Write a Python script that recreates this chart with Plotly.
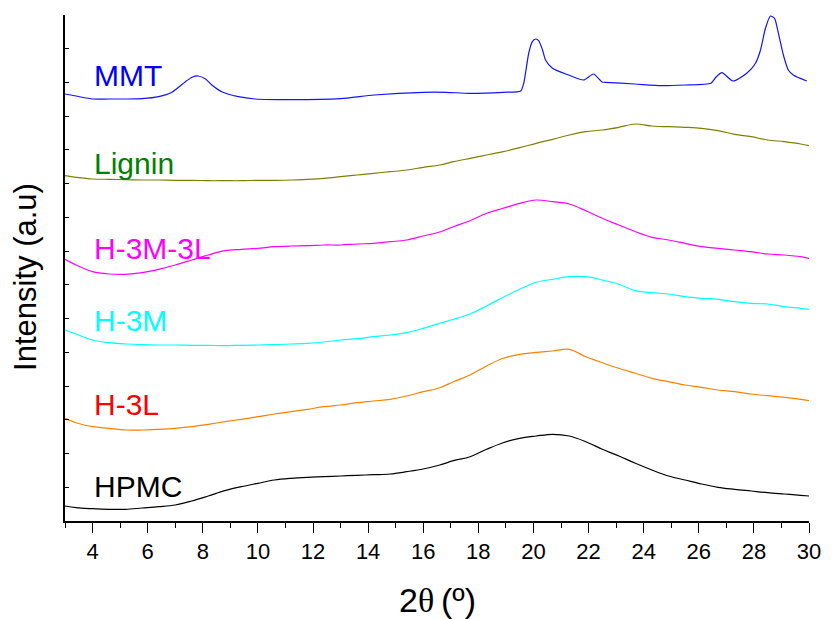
import plotly.graph_objects as go

# 2-theta grid (degrees) shared by the broad, amorphous patterns
two_theta = [3.0, 3.4, 4.0, 4.6, 5.2, 5.8, 6.4, 7.0, 7.6, 8.2, 8.8, 9.4, 10.0, 10.6,
             11.2, 11.8, 12.4, 13.0, 13.6, 14.2, 14.8, 15.4, 16.0, 16.6, 17.1, 17.7,
             18.3, 18.9, 19.5, 20.1, 20.7, 21.3, 21.9, 22.5, 23.1, 23.7, 24.3, 24.9,
             25.5, 26.1, 26.7, 27.3, 27.9, 28.5, 29.1, 29.7, 30.0]

lignin = [345.3, 343.7, 342.0, 341.7, 341.3, 341.0, 341.0, 340.7, 340.7, 340.3, 340.3,
          340.3, 340.7, 340.7, 341.0, 341.7, 342.7, 344.3, 346.0, 347.7, 349.3, 351.0,
          353.7, 356.0, 359.3, 362.7, 366.0, 369.3, 373.3, 377.7, 381.7, 386.0, 389.3,
          391.0, 393.7, 397.0, 395.0, 394.3, 393.7, 392.7, 390.3, 386.7, 384.3, 381.0,
          379.3, 377.0, 375.3]

h_3m_3l = [261.7, 256.0, 249.3, 247.0, 246.7, 248.3, 251.7, 256.0, 261.0, 266.0, 270.3,
           271.7, 272.7, 274.3, 275.0, 275.3, 276.0, 276.0, 277.0, 277.7, 279.3, 281.0,
           285.0, 289.0, 294.3, 300.3, 307.7, 312.7, 317.7, 321.0, 319.3, 317.0, 310.3,
           302.7, 296.0, 289.3, 283.7, 281.0, 277.7, 274.3, 272.7, 271.0, 269.3, 267.0,
           266.0, 264.3, 262.7]

h_3m = [191.0, 187.0, 181.0, 178.3, 177.0, 176.3, 176.0, 176.0, 175.7, 175.7, 175.3,
        175.7, 176.0, 176.3, 177.0, 177.7, 179.0, 181.0, 182.3, 184.3, 186.0, 188.3,
        192.7, 197.7, 201.7, 207.0, 215.0, 223.7, 231.7, 238.7, 241.7, 244.3, 244.3,
        241.0, 236.7, 230.3, 228.3, 227.0, 224.3, 222.7, 221.7, 219.3, 217.7, 217.0,
        214.3, 212.7, 211.7]

h_3l = [102.7, 98.3, 94.3, 92.7, 91.0, 91.0, 91.7, 92.7, 94.3, 96.7, 99.3, 101.7, 104.3,
        107.0, 109.3, 111.7, 114.3, 116.0, 118.3, 120.0, 121.7, 125.0, 129.3, 133.3,
        139.3, 146.0, 155.0, 162.7, 166.7, 168.7, 170.0, 171.7, 164.3, 158.3, 152.7,
        147.7, 142.7, 139.3, 136.0, 133.7, 131.0, 129.3, 127.0, 125.3, 123.7, 121.7,
        120.3]

hpmc = [15.0, 13.3, 12.3, 11.7, 11.7, 13.0, 14.3, 16.0, 20.0, 25.0, 30.3, 34.3, 37.7,
        41.0, 42.7, 43.7, 44.3, 45.0, 45.7, 46.3, 47.0, 49.3, 52.0, 56.0, 60.3, 64.3,
        71.7, 78.3, 82.7, 85.0, 86.7, 85.0, 79.3, 71.7, 65.0, 57.7, 51.0, 45.0, 41.0,
        37.0, 33.7, 31.7, 30.0, 28.3, 27.0, 25.7, 25.0]

# MMT has sharp reflections, so it is sampled on its own, denser grid
mmt_theta = [3.0, 3.4, 4.0, 4.6, 5.2, 5.8, 6.4, 6.88, 7.37, 7.61, 7.83, 8.1, 8.33, 8.69,
             9.29, 9.9, 11.2, 13.0, 14.22, 16.02, 16.84, 17.67, 18.89, 19.54, 19.65,
             19.83, 19.96, 20.08, 20.19, 20.33, 20.44, 20.69, 21.27, 21.82, 22.18, 22.49,
             22.6, 23.68, 24.65, 25.5, 26.44, 26.62, 26.84, 27.24, 27.74, 28.06, 28.24,
             28.42, 28.6, 28.75, 28.89, 29.07, 29.25, 29.43, 29.92]
mmt = [427.0, 425.0, 422.0, 422.0, 422.0, 422.3, 424.3, 428.7, 439.3, 443.7, 445.0, 442.0,
       436.0, 429.3, 424.3, 422.0, 421.3, 422.3, 426.0, 428.7, 428.7, 427.7, 428.7, 430.0,
       438.0, 468.0, 479.3, 482.0, 480.3, 471.0, 461.0, 452.7, 446.0, 441.0, 447.0, 439.0,
       438.7, 437.0, 435.3, 436.0, 437.7, 443.7, 448.3, 440.0, 447.7, 457.7, 471.0, 492.7,
       505.0, 502.7, 487.7, 466.0, 451.0, 446.0, 440.0]

series = [
    ("MMT", mmt_theta, mmt, "#1414FF", "#0000FF", 446),
    ("Lignin", two_theta, lignin, "#808000", "#008000", 358),
    ("H-3M-3L", two_theta, h_3m_3l, "#FF00FF", "#FF00FF", 273),
    ("H-3M", two_theta, h_3m, "#00FFFF", "#00FFFF", 201),
    ("H-3L", two_theta, h_3l, "#FF8000", "#FF0000", 117),
    ("HPMC", two_theta, hpmc, "#000000", "#000000", 35),
]

SANS = "Liberation Sans, Arial, sans-serif"

fig = go.Figure()
annotations = []
for name, xs, ys, line_color, text_color, label_y in series:
    fig.add_trace(go.Scatter(
        x=xs, y=ys, mode="lines", name=name,
        line=dict(color=line_color, width=1.2, shape="spline",
                  smoothing=0.6 if name == "MMT" else 1.0),
        showlegend=False, hoverinfo="skip",
    ))
    annotations.append(dict(
        x=3.98, y=label_y, xref="x", yref="y", text=name, showarrow=False,
        xanchor="left", yanchor="middle",
        font=dict(family=SANS, size=30, color=text_color),
    ))

# axis titles
annotations.append(dict(
    x=0.5, y=-0.156, xref="paper", yref="paper", showarrow=False,
    xanchor="center", yanchor="middle",
    text="2<span style=\"font-family:'Liberation Serif'\">θ</span>\u2009(º)",
    font=dict(family=SANS, size=34, color="black"),
))
annotations.append(dict(
    x=-0.054, y=0.482, xref="paper", yref="paper", showarrow=False,
    xanchor="center", yanchor="middle", textangle=-90,
    text="Intensity (a.u)",
    font=dict(family=SANS, size=31, color="black"),
))

fig.update_layout(
    width=833, height=619,
    margin=dict(l=65, r=17, t=15, b=98),
    paper_bgcolor="white", plot_bgcolor="white",
    annotations=annotations,
)
fig.update_xaxes(
    range=[3, 30], tick0=4, dtick=2, ticks="outside", ticklen=10, tickwidth=1.3,
    tickcolor="black", showline=True, linecolor="black", linewidth=1.6,
    showgrid=False, zeroline=False,
    tickfont=dict(family=SANS, size=22, color="black"),
    minor=dict(tick0=3, dtick=1, ticks="outside", ticklen=5, tickwidth=1.3,
               tickcolor="black", showgrid=False),
)
fig.update_yaxes(
    range=[0, 506], tick0=0, dtick=506 / 15, ticks="inside", ticklen=4, tickwidth=1.2,
    tickcolor="black", showline=True, linecolor="black", linewidth=1.6,
    showgrid=False, zeroline=False, showticklabels=False,
)

fig.write_html("out.html")
